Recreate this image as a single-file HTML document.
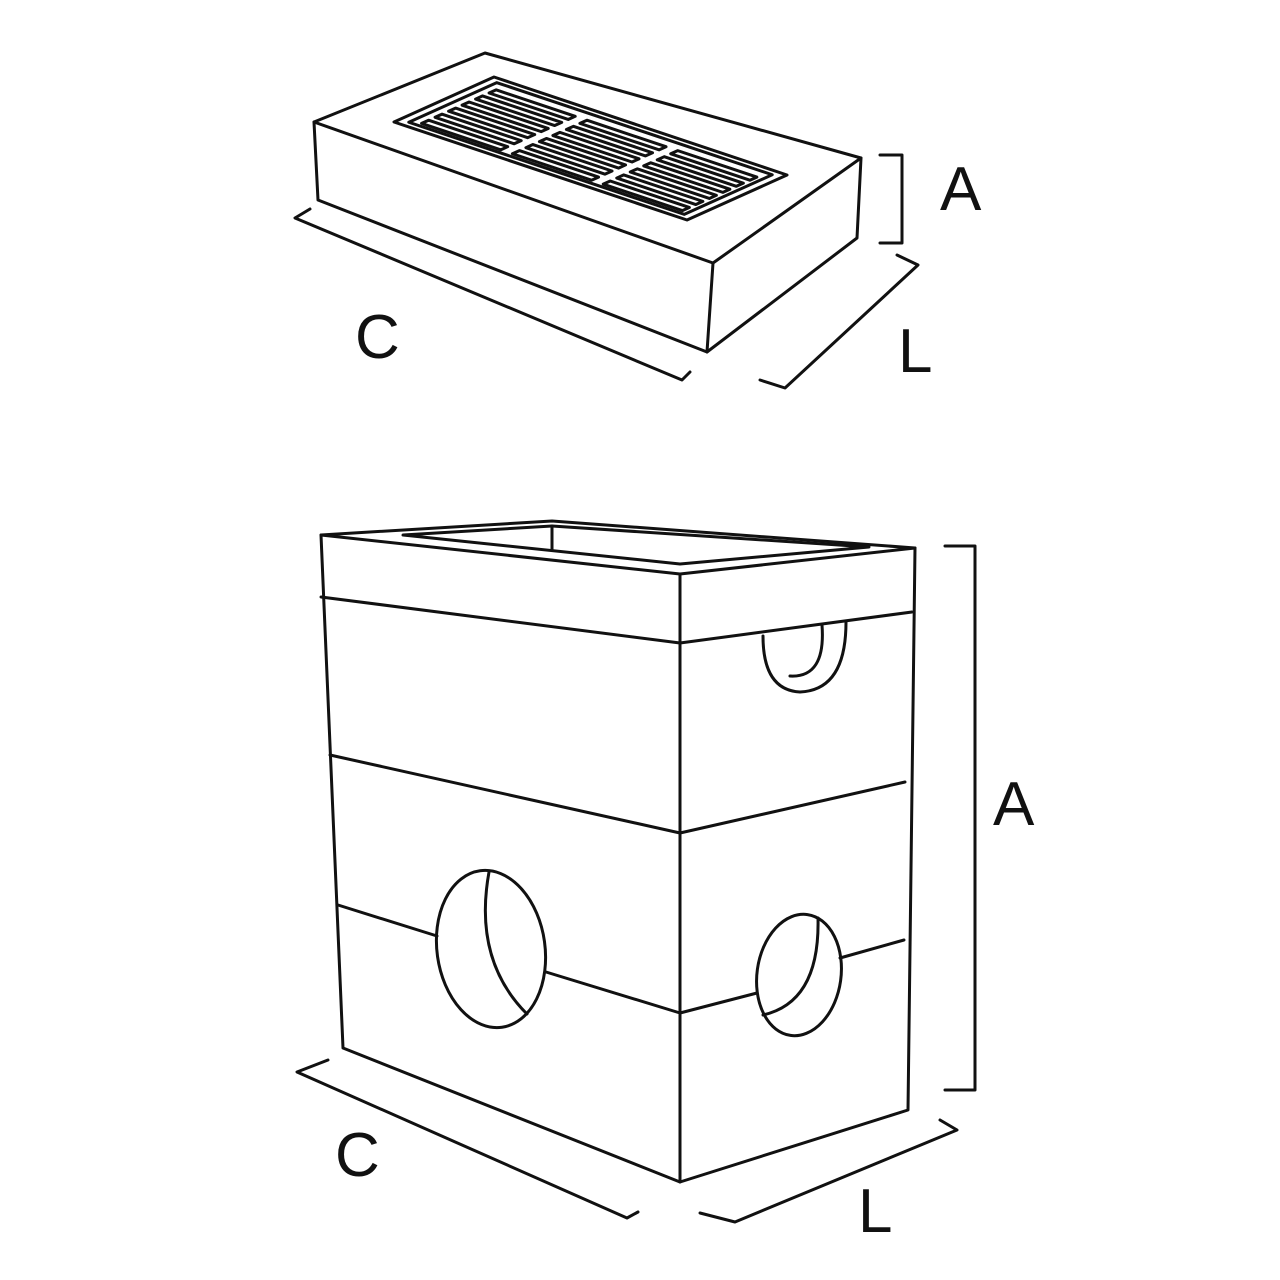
<!DOCTYPE html>
<html><head><style>html,body{margin:0;padding:0;background:#fff}svg{display:block}
text{font-family:"Liberation Sans",sans-serif;font-size:62px;fill:#111}</style></head>
<body>
<svg width="1280" height="1280" viewBox="0 0 1280 1280" xmlns="http://www.w3.org/2000/svg">
<g fill="none" stroke="#111" stroke-width="3" stroke-linejoin="round" stroke-linecap="round">
<!-- top box -->
<path d="M314,122 L485,53 L861,158 L713,263 Z"/>
<path d="M314,122 L318,200 L707,352 L713,263"/>
<path d="M707,352 L857,238 L861,158"/>
<!-- grate -->
<g transform="matrix(2.93,0.98,1.00,-0.45,394,122)">
<path vector-effect="non-scaling-stroke" d="M0,0 L100,0 L100,100 L0,100 Z"/>
<path vector-effect="non-scaling-stroke" d="M3,6 L97,6 L97,94 L3,94 Z"/>
<g>
<path vector-effect="non-scaling-stroke" d="M6,10h27v7h-27zM6,23.5h27v7h-27zM6,37h27v7h-27zM6,50.5h27v7h-27zM6,64h27v7h-27zM6,77.5h27v7h-27z"/>
<path vector-effect="non-scaling-stroke" d="M37,10h27v7h-27zM37,23.5h27v7h-27zM37,37h27v7h-27zM37,50.5h27v7h-27zM37,64h27v7h-27zM37,77.5h27v7h-27z"/>
<path vector-effect="non-scaling-stroke" d="M68,10h27v7h-27zM68,23.5h27v7h-27zM68,37h27v7h-27zM68,50.5h27v7h-27zM68,64h27v7h-27zM68,77.5h27v7h-27z"/>
</g>
</g>
<!-- top dims -->
<path d="M880,155 L902,155 L902,243 L880,243"/>
<path d="M310,209 L295,218 L682,380 L690,372"/>
<path d="M760,380 L785,388 L918,265 L897,255"/>

<!-- bottom box -->
<path d="M321,535 L552,521 L915,548 L680,574 Z"/>
<path d="M403,535 L552,526 L869,547 L680,564 Z"/>
<path d="M552,526 L552,550"/>
<path d="M321,535 L343,1048 L680,1182 L908,1110 L915,548"/>
<path d="M680,574 L680,1182"/>
<path d="M321,597 L680,643 L912,612"/>
<path d="M330,755 L680,833 L905,782"/>
<path d="M338,905 L437,936 M546,972 L680,1013 L757,993 M840,958 L904,940"/>
<ellipse cx="491" cy="949" rx="54" ry="79" transform="rotate(-8 491 949)"/>
<path d="M489,872 Q473,960 527,1014"/>
<ellipse cx="799" cy="975" rx="42" ry="61" transform="rotate(8 799 975)"/>
<path d="M818,918 Q820,1002 763,1015"/>
<path d="M763,636 Q763,690 800,692 Q846,690 846,622"/>
<path d="M822,625 Q826,678 790,676"/>
<!-- bottom dims -->
<path d="M945,546 L975,546 L975,1090 L945,1090"/>
<path d="M328,1060 L297,1072 L627,1218 L638,1212"/>
<path d="M700,1213 L735,1222 L957,1130 L940,1120"/>
</g>
<text x="940" y="210">A</text>
<text x="355" y="358">C</text>
<text x="898" y="372">L</text>
<text x="993" y="825">A</text>
<text x="335" y="1176">C</text>
<text x="858" y="1232">L</text>
</svg>
</body></html>
